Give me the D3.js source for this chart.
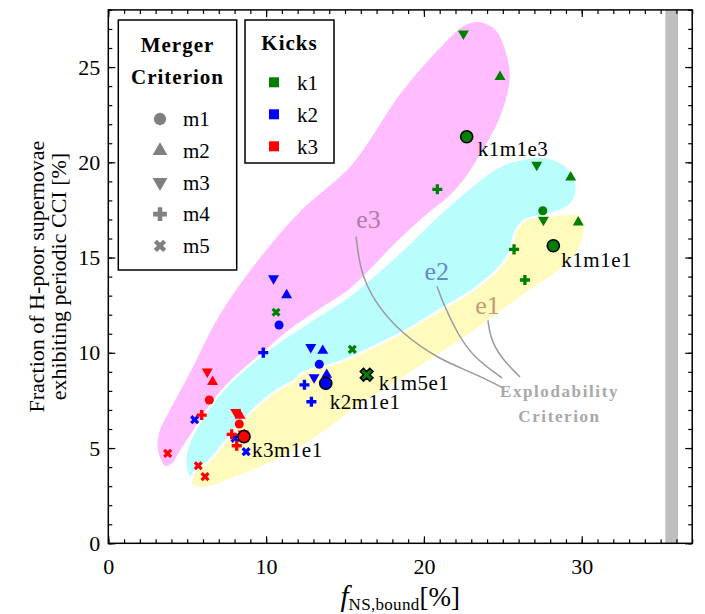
<!DOCTYPE html>
<html><head><meta charset="utf-8">
<script src="https://cdn.jsdelivr.net/npm/d3@7/dist/d3.min.js"></script>
<style>
body{margin:0;background:#fff}
text{font-family:"Liberation Serif","Times New Roman",serif;fill:#000}
</style>
</head><body>
<svg id="chart" width="705" height="614"></svg>
<script>
// ---------------- data ----------------
const mergers = ["m1","m2","m3","m4","m5"];
const kicks = ["k1","k2","k3"];
const kickColors = ["#008000","#0000ff","#ff0000"];
const explodability = ["e1","e2","e3"];
// order inside each kick array: e1 m1..m5, e2 m1..m5, e3 m1..m5
const k1NSbound = [28.2,29.78,27.57,26.4,16.37, 27.53,29.30,27.15,25.71,15.46, 22.71,24.82,22.50,20.85,10.63];
const k1CCI     = [15.62,16.85,16.97,13.82,8.85, 17.46,19.21,19.86,15.43,10.18, 21.34,24.49,26.75,18.58,12.13];
const k2NSbound = [13.78,13.84,13.04,12.87,8.73, 13.37,13.59,12.83,12.43,8.03, 10.82,11.30,10.47,9.82,5.47];
const k2CCI     = [8.40,8.85,8.71,7.43,4.81, 9.40,10.11,10.29,8.32,5.51, 11.46,13.03,13.91,10.01,6.49];
const k3NSbound = [8.60,8.62,8.55,8.14,6.13, 8.30,8.35,8.07,7.82,5.70, 6.40,6.61,6.27,5.92,3.76];
const k3CCI     = [5.60,5.70,5.75,5.12,3.50, 6.26,6.70,6.88,5.72,4.07, 7.52,8.48,9.01,6.73,4.72];
const highlighted = ["k1m1e3","k1m1e1","k1m5e1","k2m1e1","k3m1e1"];
const xTicks = [0,10,20,30];
const yTicks = [0,5,10,15,20,25];
const xDomain = [0,37];
const yDomain = [0,28];
const excludedBand = [35.3,36.1];
// explodability regions (outline vertices in data units)
const e3Outline = [[3.59,4.00],[3.09,4.79],[3.15,5.84],[3.72,6.84],[5.18,9.10],[6.89,11.88],[9.42,14.88],[12.15,17.50],[15.32,19.86],[18.49,23.69],[21.02,26.10],[22.48,27.21],[23.55,27.42],[24.63,26.95],[25.33,25.63],[25.52,24.43],[25.27,23.27],[24.63,21.86],[23.68,20.48],[22.73,19.22],[21.65,18.18],[20.38,17.34],[18.49,15.92],[15.32,13.30],[13.41,12.25],[11.32,11.04],[9.61,9.78],[7.90,8.21],[6.44,6.84],[5.37,5.79],[4.54,4.74],[4.10,4.16]];
const e2Outline = [[5.18,3.43],[4.86,4.27],[5.18,5.42],[6.00,6.63],[7.27,8.05],[8.79,9.26],[10.69,10.51],[12.59,11.56],[15.32,13.03],[18.49,15.29],[20.58,16.97],[22.73,18.55],[24.82,19.81],[26.53,20.23],[27.99,20.23],[29.07,19.76],[29.64,18.97],[29.51,18.02],[28.81,17.50],[27.67,17.18],[26.72,16.03],[25.45,14.61],[22.92,13.03],[20.38,11.72],[17.22,10.14],[14.05,8.83],[12.15,7.94],[10.24,6.89],[8.35,5.79],[6.76,4.63],[5.81,3.74]];
const e1Outline = [[12.27,8.94],[14.68,9.52],[16.77,10.30],[18.93,11.20],[21.02,12.25],[23.11,13.30],[24.63,14.35],[25.45,15.29],[25.77,16.29],[26.40,16.97],[27.80,17.18],[29.89,17.23],[30.20,16.60],[29.89,15.50],[28.63,14.35],[26.53,13.14],[24.19,11.72],[22.10,10.51],[19.94,9.36],[17.85,8.21],[15.95,7.26],[14.05,6.05],[11.96,4.90],[9.93,4.06],[8.03,3.43],[6.13,2.91],[5.31,3.06],[5.38,3.64],[6.44,4.37],[8.53,6.47],[10.44,7.89],[11.83,8.57]];
const regionLabelPos = [[24.03,12.04],[20.81,13.82],[16.49,16.55]]; // e1,e2,e3
const leaderE1 = [[24.06,11.70],[24.19,10.83],[24.82,9.78],[26.09,8.73]];
const leaderE2 = [[20.83,13.50],[21.21,12.61],[22.10,11.04],[23.11,9.78],[24.95,8.68]];
const leaderE3 = [[15.70,16.10],[15.95,14.35],[16.77,12.78],[18.49,11.05],[21.02,9.63],[23.11,8.95],[25.01,8.16]];
const criterionTextPos = [28.59,7.68];

// ---------------- setup ----------------
const svg = d3.select("#chart");
const x = d3.scaleLinear().domain(xDomain).range([108.3, 692.2]);
const y = d3.scaleLinear().domain(yDomain).range([543.3, 9.9]);
const pLeft = x(xDomain[0]), pRight = x(xDomain[1]), pTop = y(yDomain[1]), pBottom = y(yDomain[0]);

const regionFill = {e1:"#fffbbd", e2:"#b9fdfd", e3:"#ffbcff"};
const regionText = {e1:"#c49a76", e2:"#6888c8", e3:"#b07ca0"};

// grey band
svg.append("rect").attr("x", x(excludedBand[0])).attr("y", pTop)
  .attr("width", x(excludedBand[1]) - x(excludedBand[0])).attr("height", pBottom - pTop)
  .attr("fill", "#bfbfbf");

// regions
const area = d3.line().x(d => x(d[0])).y(d => y(d[1])).curve(d3.curveCatmullRomClosed.alpha(0.5));
[["e3",e3Outline],["e2",e2Outline],["e1",e1Outline]].forEach(([k,o]) => {
  svg.append("path").attr("d", area(o)).attr("fill", regionFill[k])
    .attr("stroke", "#fff").attr("stroke-width", 2.5);
});

// leader lines
const lead = d3.line().x(d => x(d[0])).y(d => y(d[1])).curve(d3.curveBasis);
[leaderE1, leaderE2, leaderE3].forEach(l => {
  svg.append("path").attr("d", lead(l)).attr("fill","none").attr("stroke","#9a9a9a").attr("stroke-width",1.5);
});
explodability.forEach((e,i) => {
  svg.append("text").attr("x", x(regionLabelPos[i][0])).attr("y", y(regionLabelPos[i][1]))
    .attr("text-anchor","middle").attr("font-size",26).style("fill", regionText[e]).text(e);
});
const ct = svg.append("text").attr("text-anchor","middle").attr("font-size",17)
  .attr("font-weight","bold").attr("letter-spacing",1.6).style("fill","#a8a8a8");
ct.append("tspan").attr("x", x(criterionTextPos[0])).attr("y", y(criterionTextPos[1])).text("Explodability");
ct.append("tspan").attr("x", x(criterionTextPos[0])).attr("y", y(criterionTextPos[1]) + 25).text("Criterion");

// ---------------- markers ----------------
function symbolPath(m, size) {
  const types = {m1:d3.symbolCircle, m2:d3.symbolTriangle, m3:d3.symbolTriangle, m4:d3.symbolCross, m5:d3.symbolCross};
  return d3.symbol().type(types[m]).size(size)();
}
const rot = {m1:0, m2:0, m3:180, m4:0, m5:45};
const baseSize = {m1:64, m2:52, m3:52, m4:56, m5:52};
const bigSize = {m1:115, m5:100};

const xs = [k1NSbound,k2NSbound,k3NSbound], ys = [k1CCI,k2CCI,k3CCI];
const points = [];
kicks.forEach((k,ki) => {
  explodability.forEach((e,ei) => {
    mergers.forEach((m,mi) => {
      const idx = ei*5 + mi;
      points.push({k, m, e, name:k+m+e, color:kickColors[ki], fx:xs[ki][idx], fy:ys[ki][idx]});
    });
  });
});
const normal = points.filter(p => !highlighted.includes(p.name));
const big = points.filter(p => highlighted.includes(p.name));

const gMarks = svg.append("g");
gMarks.selectAll("path.n").data(normal).join("path").attr("class","n")
  .attr("d", p => symbolPath(p.m, baseSize[p.m]))
  .attr("transform", p => `translate(${x(p.fx)},${y(p.fy)}) rotate(${rot[p.m]})`)
  .attr("fill", p => p.color);
gMarks.selectAll("path.b").data(big).join("path").attr("class","b")
  .attr("d", p => symbolPath(p.m, bigSize[p.m]))
  .attr("transform", p => `translate(${x(p.fx)},${y(p.fy)}) rotate(${rot[p.m]})`)
  .attr("fill", p => p.color).attr("stroke","#000").attr("stroke-width",1.6);

const labelOffset = {k1m1e3:[11,19], k1m1e1:[8,21], k1m5e1:[12,15], k2m1e1:[4,26], k3m1e1:[8,20]};
svg.selectAll("text.hl").data(big).join("text").attr("class","hl")
  .attr("x", p => x(p.fx) + labelOffset[p.name][0])
  .attr("y", p => y(p.fy) + labelOffset[p.name][1])
  .attr("font-size", 21).attr("letter-spacing", 0.5).text(p => p.name);

// ---------------- axes ----------------
const minorX = d3.range(xDomain[0], xDomain[1] + 0.001, 1);
const minorY = d3.range(yDomain[0], yDomain[1] + 0.001, 1);
function axisG(axis, tx, ty) {
  const g = svg.append("g").attr("transform", `translate(${tx},${ty})`).call(axis);
  g.select(".domain").remove();
  g.selectAll("line").attr("stroke","#000").attr("stroke-width",1.2);
  return g;
}
axisG(d3.axisBottom(x).tickValues(minorX).tickSize(-4).tickFormat(""), 0, pBottom);
axisG(d3.axisTop(x).tickValues(minorX).tickSize(-4).tickFormat(""), 0, pTop);
axisG(d3.axisLeft(y).tickValues(minorY).tickSize(-4).tickFormat(""), pLeft, 0);
axisG(d3.axisRight(y).tickValues(minorY).tickSize(-4).tickFormat(""), pRight, 0);
const bx = axisG(d3.axisBottom(x).tickValues(xTicks).tickSize(-7).tickPadding(15).tickFormat(d3.format("d")), 0, pBottom);
axisG(d3.axisTop(x).tickValues(xTicks).tickSize(-7).tickFormat(""), 0, pTop);
const ly = axisG(d3.axisLeft(y).tickValues(yTicks).tickSize(-7).tickPadding(8).tickFormat(d3.format("d")), pLeft, 0);
axisG(d3.axisRight(y).tickValues(yTicks).tickSize(-7).tickFormat(""), pRight, 0);
[bx, ly].forEach(g => g.selectAll("text").attr("font-size",22).attr("font-family",'"Liberation Serif",serif').style("fill","#000"));

svg.append("rect").attr("x", pLeft).attr("y", pTop).attr("width", pRight-pLeft).attr("height", pBottom-pTop)
  .attr("fill","none").attr("stroke","#000").attr("stroke-width",1.5);

// axis labels
const xl = svg.append("text").attr("x", (pLeft+pRight)/2).attr("y", 606).attr("text-anchor","middle").attr("font-size",27);
xl.append("tspan").attr("font-style","italic").attr("font-size",29).text("f");
xl.append("tspan").attr("font-size",17).attr("dy",4).attr("letter-spacing",0.3).text("NS,bound");
xl.append("tspan").attr("dy",-4).text("[%]");

const ylab = ["Fraction of H-poor supernovae", "exhibiting periodic CCI [%]"];
ylab.forEach((t,i) => {
  svg.append("text").attr("transform", `translate(${44 + i*22},${(pTop+pBottom)/2}) rotate(-90)`)
    .attr("text-anchor","middle").attr("font-size",22).text(t);
});

// ---------------- legends ----------------
const lg1 = svg.append("g");
lg1.append("rect").attr("x",118.3).attr("y",20).attr("width",118.4).attr("height",250)
  .attr("fill","#fff").attr("stroke","#000").attr("stroke-width",1.5);
lg1.append("text").attr("x",177.5).attr("y",52).attr("text-anchor","middle").attr("font-size",21)
  .attr("font-weight","bold").attr("letter-spacing",1).text("Merger");
lg1.append("text").attr("x",177.5).attr("y",84).attr("text-anchor","middle").attr("font-size",21)
  .attr("font-weight","bold").attr("letter-spacing",1).text("Criterion");
const legSize = {m1:120, m2:95, m3:95, m4:105, m5:95};
mergers.forEach((m,i) => {
  const cy = 119 + i*31.7;
  lg1.append("path").attr("d", symbolPath(m, legSize[m]))
    .attr("transform", `translate(160,${cy}) rotate(${rot[m]})`).attr("fill","#808080");
  lg1.append("text").attr("x",183).attr("y",cy).attr("dy","0.35em").attr("font-size",21).text(m);
});

const lg2 = svg.append("g");
lg2.append("rect").attr("x",245).attr("y",20).attr("width",89).attr("height",143)
  .attr("fill","#fff").attr("stroke","#000").attr("stroke-width",1.5);
lg2.append("text").attr("x",289.5).attr("y",50).attr("text-anchor","middle").attr("font-size",21)
  .attr("font-weight","bold").attr("letter-spacing",1).text("Kicks");
kicks.forEach((k,i) => {
  const cy = 82.3 + i*32;
  lg2.append("rect").attr("x",269).attr("y",cy-5).attr("width",10).attr("height",10).attr("fill",kickColors[i]);
  lg2.append("text").attr("x",297).attr("y",cy).attr("dy","0.35em").attr("font-size",21).text(k);
});
</script>
</body></html>
